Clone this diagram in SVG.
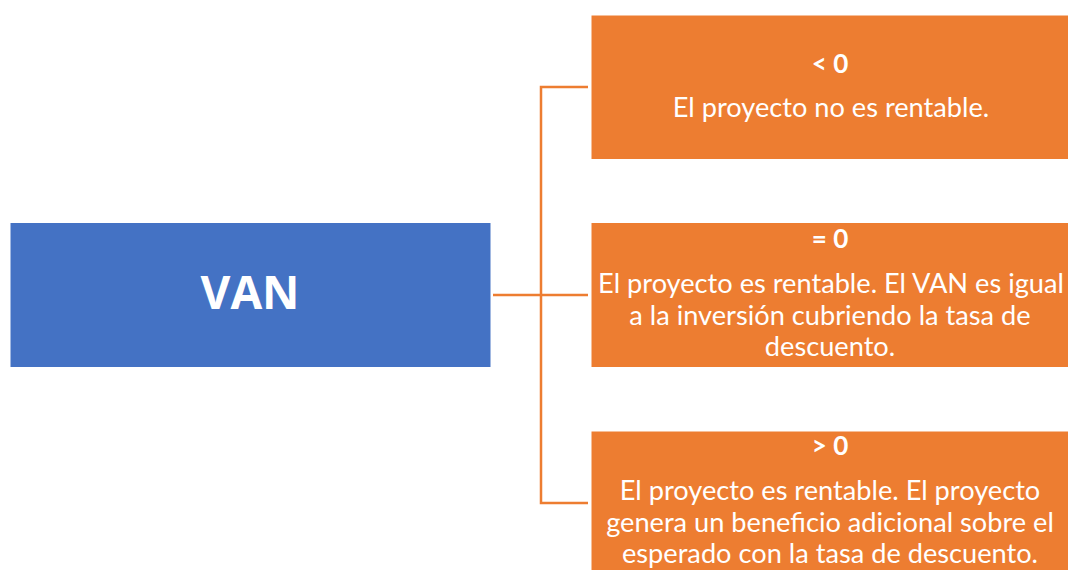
<svg xmlns="http://www.w3.org/2000/svg" width="1068" height="570" viewBox="0 0 1068 570">
<style>
.blue{fill:#4472C4;stroke:#ffffff;stroke-width:1}
.orange{fill:#ED7D31;stroke:#ffffff;stroke-width:1}
.t{font-family:Lato,"Open Sans","Liberation Sans",sans-serif;fill:#ffffff;text-anchor:middle;font-size:27.2px}
.b{font-weight:bold;font-size:26px}
.van{font-family:"Open Sans","Liberation Sans",sans-serif;fill:#ffffff;text-anchor:middle;font-size:46px;font-weight:bold}
.c{fill:none;stroke:#ED7D31;stroke-width:2.5}
</style>
<rect width="1068" height="570" fill="#ffffff"/>
<g id="connectors">
<path class="c" d="M493 295 H588"/>
<path class="c" d="M588 87 H541 V503 H588"/>
</g>
<g id="van">
<rect class="blue" x="10" y="222.5" width="481" height="145"/>
<text class="van" x="250" y="309">VAN</text>
</g>
<g id="neg">
<rect class="orange" x="591" y="15" width="478" height="144.5"/>
<text class="t b" x="830" y="73">&lt; 0</text>
<text class="t" x="831" y="117">El proyecto no es rentable.</text>
</g>
<g id="zero">
<rect class="orange" x="591" y="222.5" width="478" height="145"/>
<text class="t b" x="830" y="248">= 0</text>
<text class="t" x="831" y="293">El proyecto es rentable. El VAN es igual</text>
<text class="t" x="830" y="324.5">a la inversión cubriendo la tasa de</text>
<text class="t" x="830" y="356">descuento.</text>
</g>
<g id="pos">
<rect class="orange" x="591" y="431" width="478" height="145"/>
<text class="t b" x="830" y="455">&gt; 0</text>
<text class="t" x="830" y="500">El proyecto es rentable. El proyecto</text>
<text class="t" x="830" y="532">genera un beneficio adicional sobre el</text>
<text class="t" x="830" y="563">esperado con la tasa de descuento.</text>
</g>
</svg>
